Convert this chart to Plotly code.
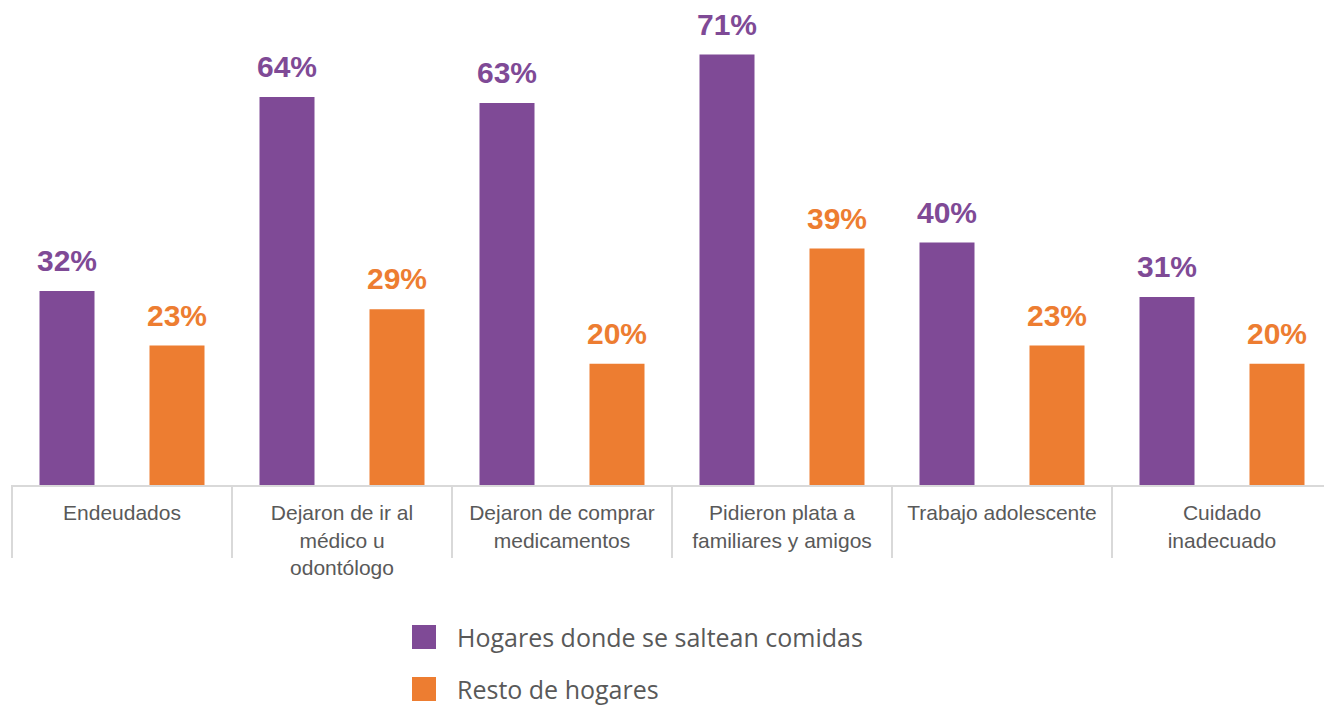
import plotly.graph_objects as go

categories = [
    "Endeudados",
    "Dejaron de ir al<br>médico u<br>odontólogo",
    "Dejaron de comprar<br>medicamentos",
    "Pidieron plata a<br>familiares y amigos",
    "Trabajo adolescente",
    "Cuidado<br>inadecuado",
]
series_names = ["Hogares donde se saltean comidas", "Resto de hogares"]
saltean = [32, 64, 63, 71, 40, 31]
resto = [23, 29, 20, 39, 23, 20]
colors = ["#7F4A96", "#ED7D31"]

W, H = 1324, 705
ML, MB = 12, 220
plot_w = W - ML
plot_h = H - MB
cat_px = 220.0
x0 = -0.5
x1 = x0 + plot_w / cat_px

idx = list(range(len(categories)))
fig = go.Figure()
for k, (vals, name, col) in enumerate(zip([saltean, resto], series_names, colors)):
    off = -0.25 if k == 0 else 0.25
    xs = [i + off for i in idx]
    fig.add_trace(go.Bar(x=xs, y=vals, width=0.25, name=name,
                         marker=dict(color=col, line=dict(width=0)),
                         showlegend=False, hoverinfo="skip"))
    for xv, v in zip(xs, vals):
        fig.add_annotation(x=xv, y=v, xref="x", yref="y", text=f"{v}%",
                           showarrow=False, yanchor="bottom", yshift=12,
                           font=dict(family="Liberation Sans, Arial", size=30,
                                     color=col, weight="bold"))

# category separators
shapes = []
for b in range(len(categories) + 1):
    xb = b - 0.5
    if xb > x1:
        continue
    px = (xb - x0) / (x1 - x0)
    shapes.append(dict(type="line", xref="paper", yref="paper",
                       x0=px, x1=px, y0=0, y1=-73 / plot_h,
                       line=dict(color="#D9D9D9", width=2)))

# manual legend
leg_y = [637, 689]
for k, (name, col) in enumerate(zip(series_names, colors)):
    yc = 1 - leg_y[k] / plot_h
    half = 12 / plot_h
    xl = (412 - ML) / plot_w
    xr = (436 - ML) / plot_w
    shapes.append(dict(type="rect", xref="paper", yref="paper",
                       x0=xl, x1=xr, y0=yc - half, y1=yc + half,
                       fillcolor=col, line=dict(width=0)))
    fig.add_annotation(x=(455 - ML) / plot_w, y=yc, xref="paper", yref="paper",
                       text=name, showarrow=False, xanchor="left", yanchor="middle",
                       font=dict(family="Open Sans", size=25, color="#595959"))

fig.update_layout(
    width=W, height=H,
    margin=dict(l=ML, r=0, t=0, b=MB),
    paper_bgcolor="white", plot_bgcolor="white",
    barmode="overlay",
    shapes=shapes,
    xaxis=dict(range=[x0, x1], tickmode="array", tickvals=idx, ticktext=categories,
               showgrid=False, zeroline=False, showline=True,
               linecolor="#D9D9D9", linewidth=2, ticks="",
               ticklabelstandoff=8,
               tickfont=dict(family="Liberation Sans, Arial", size=21, color="#595959"),
               fixedrange=True),
    yaxis=dict(range=[0, 80], visible=False, showgrid=False, fixedrange=True),
    showlegend=False,
)

fig.write_html("out.html", config={"displayModeBar": False},
               post_script="document.body.style.margin='0';document.body.style.overflow='hidden';")
